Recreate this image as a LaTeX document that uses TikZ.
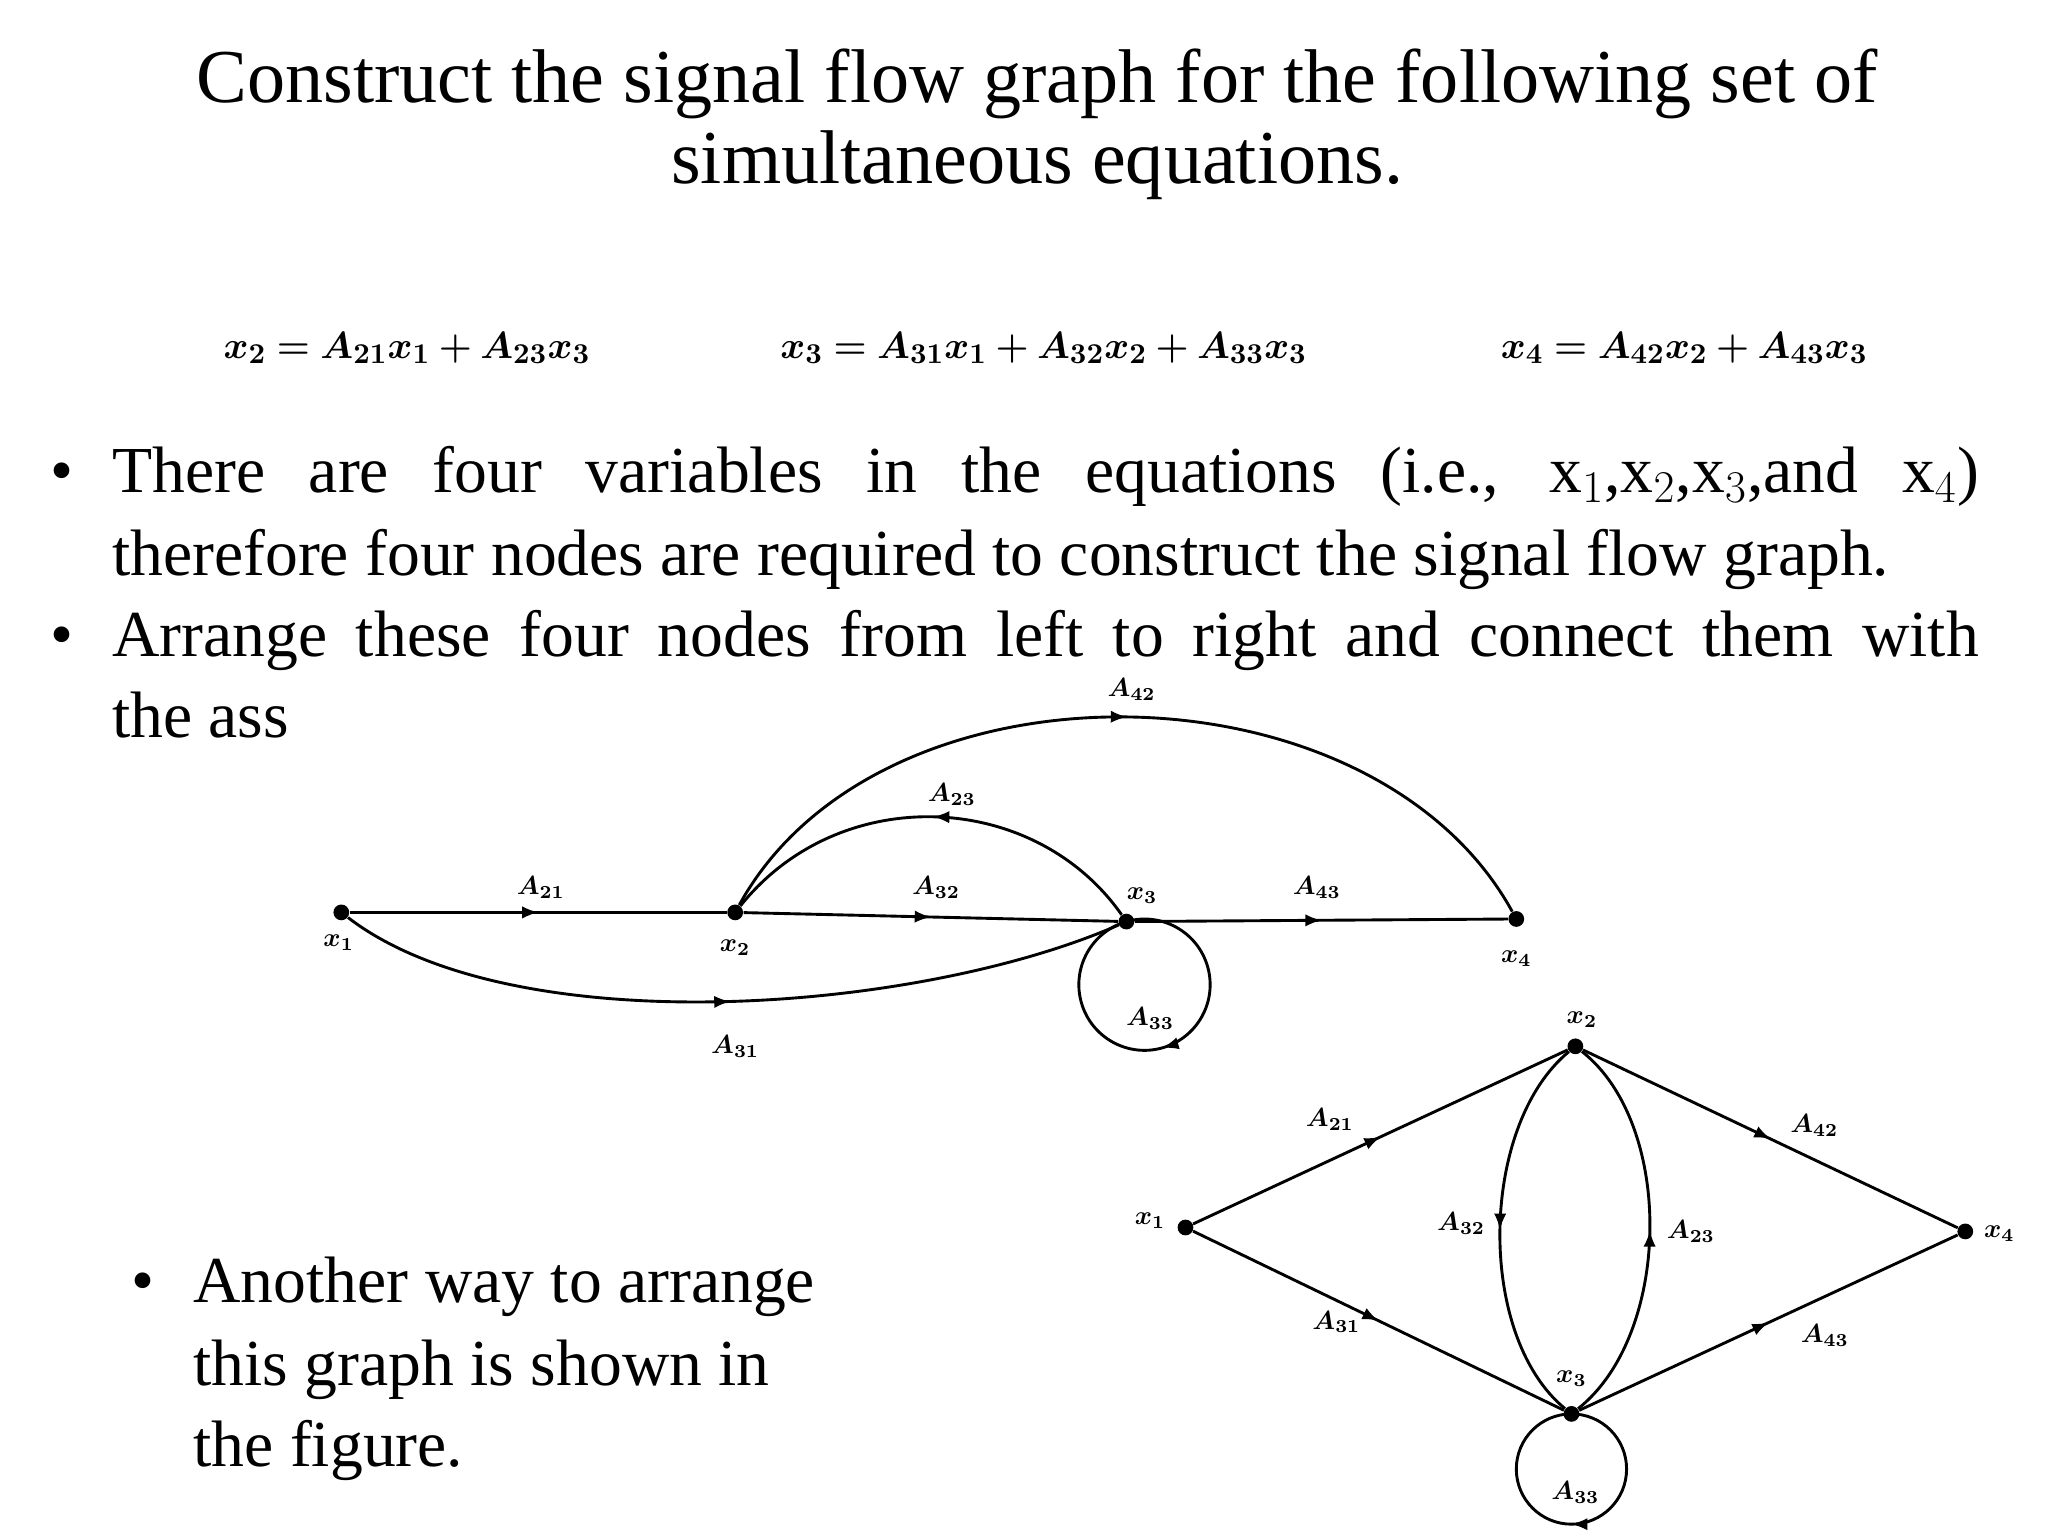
\documentclass[tikz,border=0pt]{standalone}
\usepackage{fontspec}
\setmainfont{Liberation Serif}
\usepackage{amsmath}
\usepackage{bm}
\usetikzlibrary{decorations.markings}
\tikzset{
  dot/.style={circle,fill=black,inner sep=0pt,minimum size=6pt},
  midarrow/.style={line width=1.1pt,postaction={decorate},decoration={markings,mark=at position 0.5 with {\arrow{latex}}}},
  lbl/.style={inner sep=0.75pt,font=\normalsize},
  bodytext/.style={anchor=base west,inner sep=0pt,font=\fontsize{25}{29}\selectfont},
}
\begin{document}
\begin{tikzpicture}[x=0.5pt,y=-0.5pt]
\useasboundingbox (0,0) rectangle (1560,1170);
% title
\node[inner sep=0pt,anchor=base,font=\fontsize{29}{33}\selectfont] (title1) at (790,78) {Construct the signal flow graph for the following set of};
\node[inner sep=0pt,anchor=base,font=\fontsize{29}{33}\selectfont] (title2) at (790,140) {simultaneous equations.};
% equations
\node[inner sep=0pt,font=\fontsize{15.5}{18}\selectfont] (eq1) at (310,265) {$\bm{x_2 = A_{21}x_1 + A_{23}x_3}$};
\node[inner sep=0pt,font=\fontsize{15.5}{18}\selectfont] (eq2) at (795,265) {$\bm{x_3 = A_{31}x_1 + A_{32}x_2 + A_{33}x_3}$};
\node[inner sep=0pt,font=\fontsize{15.5}{18}\selectfont] (eq3) at (1283,265) {$\bm{x_4 = A_{42}x_2 + A_{43}x_3}$};
% bullets
\node[bodytext] (b1) at (38,375) {\textbullet};
\node[bodytext] (l1) at (85,375) {\makebox[711pt][s]{There are four variables in the equations (i.e., x$_1$,x$_2$,x$_3$,and x$_4$)}};
\node[bodytext] (l2) at (85,438) {therefore four nodes are required to construct the signal flow graph.};
\node[bodytext] (b2) at (38,500) {\textbullet};
\node[bodytext] (l3) at (85,500) {\makebox[711pt][s]{Arrange these four nodes from left to right and connect them with}};
\node[bodytext] (l4) at (85,562) {the ass};
\node[bodytext] (b3) at (100,992) {\textbullet};
\node[bodytext] (l5) at (147,992) {Another way to arrange};
\node[bodytext] (l6) at (147,1055) {this graph is shown in};
\node[bodytext] (l7) at (147,1117) {the figure.};

% first graph
\node[dot] (xa) at (260,695) {};
\node[dot] (xb) at (560,695) {};
\node[dot] (xc) at (858,702) {};
\node[dot] (xd) at (1155,700) {};
\draw[midarrow] (xa) -- (xb);
\draw[midarrow] (xb) -- (xc);
\draw[midarrow] (xc) -- (xd);
\draw[midarrow] (xb) .. controls +(110,-200) and +(-110,-200) .. (xd);
\draw[midarrow] (xc) .. controls +(-70,-100) and +(80,-100) .. (xb);
\draw[midarrow] (xa) .. controls +(130,100) and +(-160,70) .. (xc);
\draw[midarrow] (xc) arc (-106:254:50);
\node[lbl] at (258,718) {$\bm{x_1}$};
\node[lbl] at (560,722) {$\bm{x_2}$};
\node[lbl] at (870,682) {$\bm{x_3}$};
\node[lbl] at (1155,730) {$\bm{x_4}$};
\node[lbl] at (412,676) {$\bm{A_{21}}$};
\node[lbl] at (713,676) {$\bm{A_{32}}$};
\node[lbl] at (1003,676) {$\bm{A_{43}}$};
\node[lbl] at (560,797) {$\bm{A_{31}}$};
\node[lbl] at (876,776) {$\bm{A_{33}}$};
\node[lbl] at (725,605) {$\bm{A_{23}}$};
\node[lbl] at (862,525) {$\bm{A_{42}}$};

% second graph
\node[dot] (ya) at (903,935) {};
\node[dot] (yb) at (1200,797) {};
\node[dot] (yc) at (1197,1077) {};
\node[dot] (yd) at (1497,938) {};
\draw[midarrow] (ya) -- (yb);
\draw[midarrow] (ya) -- (yc);
\draw[midarrow] (yb) -- (yd);
\draw[midarrow] (yc) -- (yd);
\draw[midarrow] (yb) .. controls +(-73,60) and +(-73,-60) .. (yc);
\draw[midarrow] (yc) .. controls +(76,-60) and +(76,60) .. (yb);
\draw[midarrow] (yc) arc (-90:270:42);
\node[lbl] at (1205,777) {$\bm{x_2}$};
\node[lbl] at (876,930) {$\bm{x_1}$};
\node[lbl] at (1523,940) {$\bm{x_4}$};
\node[lbl] at (1197,1050) {$\bm{x_3}$};
\node[lbl] at (1013,853) {$\bm{A_{21}}$};
\node[lbl] at (1382,857) {$\bm{A_{42}}$};
\node[lbl] at (1113,932) {$\bm{A_{32}}$};
\node[lbl] at (1288,938) {$\bm{A_{23}}$};
\node[lbl] at (1018,1007) {$\bm{A_{31}}$};
\node[lbl] at (1390,1017) {$\bm{A_{43}}$};
\node[lbl] at (1200,1137) {$\bm{A_{33}}$};
\end{tikzpicture}
\end{document}
